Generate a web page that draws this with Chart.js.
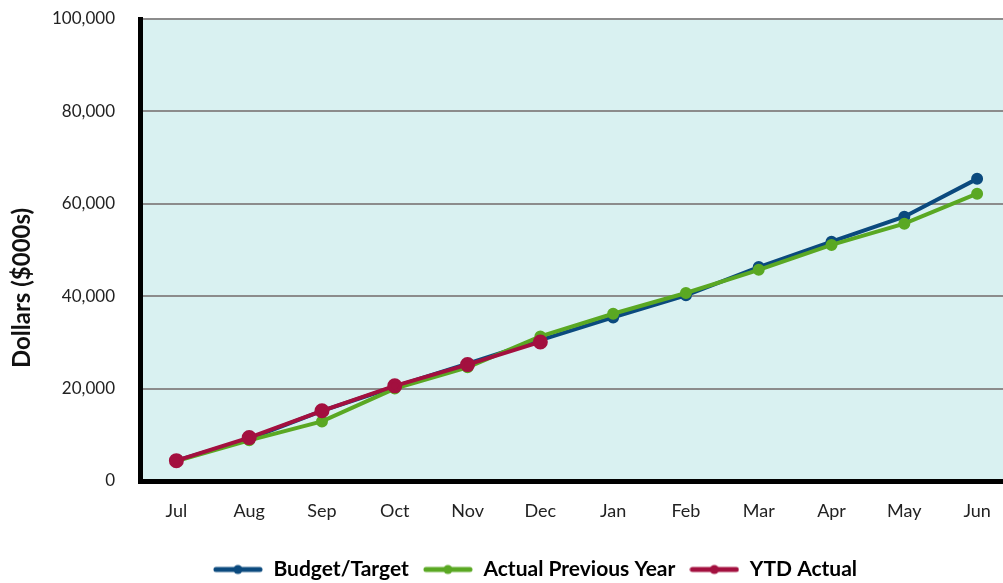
<!DOCTYPE html>
<html>
<head>
<meta charset="utf-8">
<script src="https://cdn.jsdelivr.net/npm/chart.js@4"></script>
<style>
  html, body { margin: 0; padding: 0; background: #fff; overflow: hidden; }
  #wrap { width: 1023px; height: 583px; }
</style>
</head>
<body>
<div id="wrap"><canvas id="chart" width="1023" height="583"></canvas></div>
<script>
const months = ['Jul', 'Aug', 'Sep', 'Oct', 'Nov', 'Dec', 'Jan', 'Feb', 'Mar', 'Apr', 'May', 'Jun'];
const budgetTarget = [4400, 9100, 15200, 20400, 25400, 30500, 35400, 40200, 46300, 51800, 57200, 65400];
const actualPrevYear = [4300, 8800, 12900, 20000, 24600, 31300, 36200, 40700, 45700, 51100, 55700, 62200];
const ytdActual = [4400, 9400, 15200, 20600, 25200, 30100];
const yTicks = [0, 20000, 40000, 60000, 80000, 100000];
const yTitle = 'Dollars ($000s)';

// little "line with a dot" swatch for the legend
function legendSwatch(color) {
    const c = document.createElement('canvas');
    c.width = 50;
    c.height = 12;
    const ctx = c.getContext('2d');
    ctx.strokeStyle = color;
    ctx.lineWidth = 5;
    ctx.lineCap = 'round';
    ctx.beginPath();
    ctx.moveTo(3, 6);
    ctx.lineTo(47, 6);
    ctx.stroke();
    ctx.fillStyle = color;
    ctx.beginPath();
    ctx.arc(25, 6, 4.5, 0, Math.PI * 2);
    ctx.fill();
    return c;
}

// fill the plot area with the pale cyan background
const plotBackground = {
    id: 'plotBackground',
    beforeDraw(chart) {
        const { ctx, chartArea } = chart;
        ctx.save();
        ctx.fillStyle = '#d9f1f1';
        ctx.fillRect(chartArea.left, chartArea.top, chartArea.right - chartArea.left, chartArea.bottom - chartArea.top);
        ctx.restore();
    }
};

// the y title sits a bit below the middle in the original, so draw it by hand
const sideTitle = {
    id: 'sideTitle',
    afterDraw(chart) {
        const ctx = chart.ctx;
        ctx.save();
        ctx.translate(22, 288);
        ctx.rotate(-Math.PI / 2);
        ctx.font = 'bold 24px Lato';
        ctx.fillStyle = '#111';
        ctx.textAlign = 'center';
        ctx.textBaseline = 'middle';
        ctx.fillText(yTitle, 0, 0);
        ctx.restore();
    }
};

// nudge the legend to the right, like the original
const legendShift = {
    id: 'legendShift',
    afterLayout(chart) {
        if (chart.legend) {
            chart.legend.left += 25;
            chart.legend.right += 25;
        }
    }
};

const blue = '#0b4a7e';
const green = '#5aa823';
const red = '#a3103f';

new Chart(document.getElementById('chart'), {
    type: 'line',
    data: {
        labels: months,
        datasets: [
            {
                label: 'Budget/Target',
                data: budgetTarget,
                borderColor: blue,
                backgroundColor: blue,
                borderWidth: 4,
                pointRadius: 4,
                order: 2
            },
            {
                label: 'Actual Previous Year',
                data: actualPrevYear,
                borderColor: green,
                backgroundColor: green,
                borderWidth: 4,
                pointRadius: 4,
                order: 1
            },
            {
                label: 'YTD Actual',
                data: ytdActual,
                borderColor: red,
                backgroundColor: red,
                borderWidth: 4,
                pointRadius: 5.5,
                order: 0
            }
        ]
    },
    options: {
        responsive: false,
        animation: false,
        elements: {
            line: { tension: 0 },
            point: { pointStyle: 'circle', borderWidth: 0 }
        },
        layout: { padding: { top: 0, right: 3, left: 0, bottom: -7 } },
        plugins: {
            tooltip: { enabled: false },
            legend: {
                position: 'bottom',
                labels: {
                    usePointStyle: true,
                    pointStyleWidth: 50,
                    color: '#111',
                    font: { family: 'Lato', size: 21, weight: 'bold' },
                    padding: 14,
                    generateLabels(chart) {
                        return chart.data.datasets.map((ds, i) => ({
                            text: ds.label,
                            pointStyle: legendSwatch(ds.borderColor),
                            fillStyle: ds.borderColor,
                            strokeStyle: ds.borderColor,
                            lineWidth: 0,
                            hidden: false,
                            datasetIndex: i
                        }));
                    }
                }
            }
        },
        scales: {
            x: {
                offset: true,
                grid: { display: false, drawTicks: false },
                border: { color: '#000', width: 5 },
                ticks: {
                    color: '#222',
                    font: { family: 'Lato', size: 18 },
                    padding: 19
                },
                afterFit(scale) { scale.height = 64; }
            },
            y: {
                min: 0,
                max: 100000,
                afterBuildTicks(scale) { scale.ticks = yTicks.map(v => ({ value: v })); },
                grid: { color: '#8c8c8c', lineWidth: 2, drawTicks: false },
                border: { color: '#000', width: 5 },
                ticks: {
                    color: '#222',
                    font: { family: 'Lato', size: 17 },
                    padding: 25,
                    callback: v => v.toLocaleString('en-US')
                },
                afterFit(scale) {
                    scale.width = 140;
                    // tick padding gets added to the top gap, take it back out
                    scale.paddingTop = 19;
                    scale.paddingBottom = 0;
                }
            }
        }
    },
    plugins: [plotBackground, sideTitle, legendShift]
});
</script>
</body>
</html>
